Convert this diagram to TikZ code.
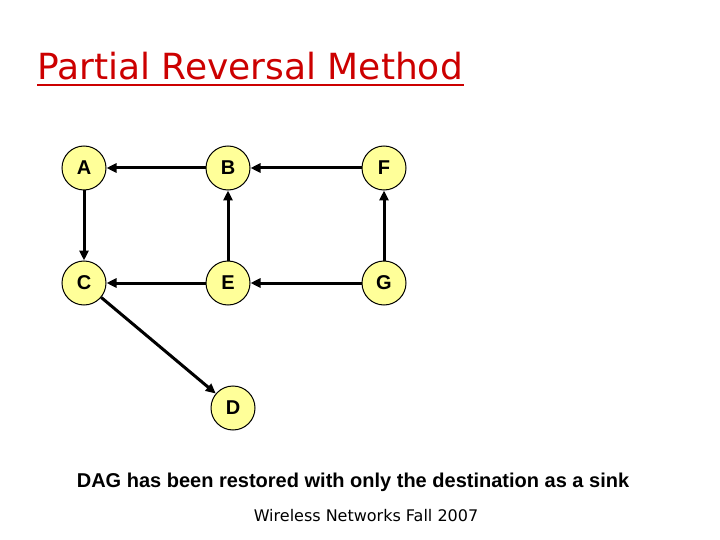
\documentclass[tikz,border=0pt]{standalone}
\usepackage{fontspec}
\setmainfont{Liberation Sans}
\newfontfamily\verd{DejaVu Sans}
\usetikzlibrary{arrows.meta}
\begin{document}
\begin{tikzpicture}[x=1pt,y=-1pt,
  vtx/.style={circle,draw=black,line width=1pt,fill={rgb,255:red,255;green,255;blue,153},minimum size=44pt,inner sep=0pt,font=\bfseries\fontsize{20}{20}\selectfont},
  edge/.style={line width=3pt,-{Triangle[length=10pt,width=9pt]}}]
\useasboundingbox (0,0) rectangle (720,540);
\node[anchor=base west,text=red!80!black,font=\verd\fontsize{36}{36}\selectfont,inner sep=0pt] (t) at (37,80) {Partial Reversal Method};
\draw[red!80!black,line width=1.5pt] (37,85) -- (464,85);
\node[vtx] (A) at (84,168) {A};
\node[vtx] (B) at (228,168) {B};
\node[vtx] (F) at (384,168) {F};
\node[vtx] (C) at (84,283) {C};
\node[vtx] (E) at (228,283) {E};
\node[vtx] (G) at (384,283) {G};
\node[vtx] (D) at (233,408) {D};
\draw[edge] (B) -- (A);
\draw[edge] (F) -- (B);
\draw[edge] (A) -- (C);
\draw[edge] (E) -- (B);
\draw[edge] (G) -- (F);
\draw[edge] (E) -- (C);
\draw[edge] (G) -- (E);
\draw[edge] (C) -- (D);
\node[anchor=base,font=\bfseries\fontsize{20}{20}\selectfont,inner sep=0pt] (cap) at (353,487) {DAG has been restored with only the destination as a sink};
\node[anchor=base,font=\verd\fontsize{16}{16}\selectfont,inner sep=0pt] (foot) at (366,521) {Wireless Networks Fall 2007};
\end{tikzpicture}
\end{document}
